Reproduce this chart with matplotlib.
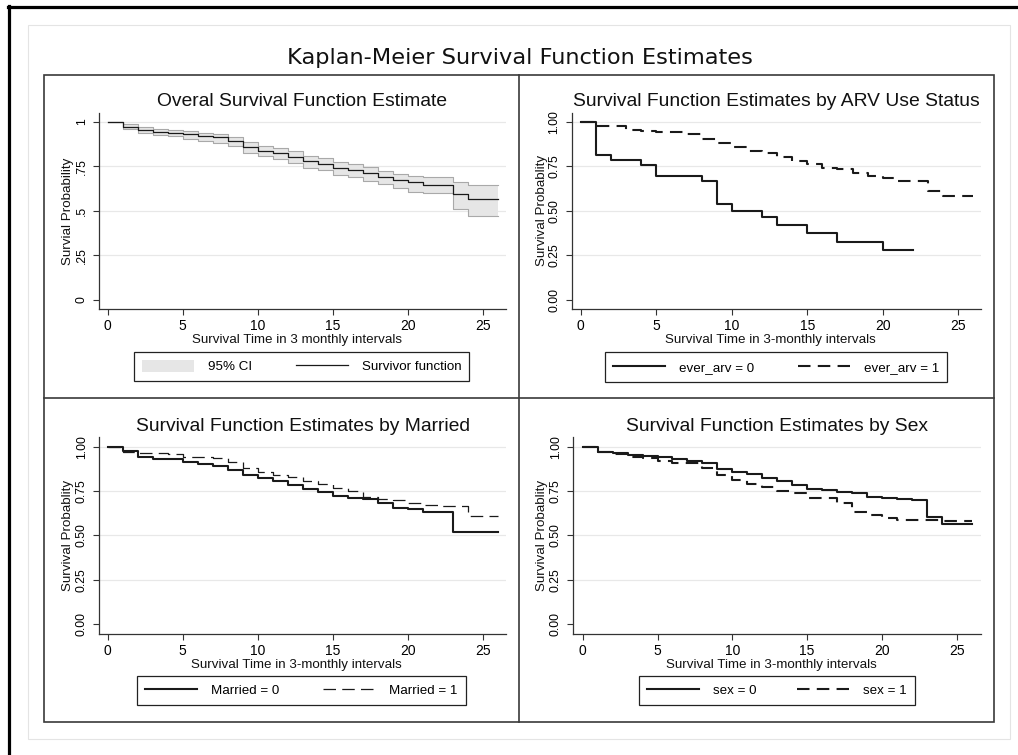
import matplotlib
matplotlib.use("Agg")
import matplotlib.pyplot as plt
from matplotlib.lines import Line2D
from matplotlib.patches import Patch, Rectangle

plt.rcParams["font.family"] = ["Liberation Sans", "DejaVu Sans"]

# ---------------- data ----------------
time = list(range(27))  # 3-monthly intervals 0..26

overall_surv = [1.0, .972, .953, .944, .938, .929, .920, .912, .893, .856, .837, .822, .804, .779,
                .763, .742, .729, .714, .692, .673, .662, .647, .645, .594, .564, .564, .564]
overall_hi = [1.0, .987, .972, .961, .953, .948, .938, .929, .916, .888, .865, .850, .836, .809,
              .794, .776, .761, .748, .725, .708, .695, .690, .690, .664, .645, .645, .645]
overall_lo = [1.0, .957, .935, .925, .920, .901, .892, .882, .864, .826, .807, .791, .766, .742,
              .729, .701, .688, .667, .650, .626, .607, .598, .598, .508, .471, .471, .471]

arv0 = [1.0, .813, .785, .785, .757, .695, .695, .695, .667, .536, .501, .501, .464, .421,
        .421, .374, .374, .327, .327, .327, .280, .280, .280]
arv1 = [1.0, .978, .978, .953, .950, .940, .940, .929, .905, .882, .856, .837, .822, .800,
        .781, .763, .742, .733, .714, .695, .686, .669, .667, .609, .583, .583, .583]

married0 = [1.0, .976, .944, .929, .929, .916, .901, .893, .869, .841, .822, .807, .784, .760,
            .743, .722, .709, .704, .685, .653, .647, .634, .634, .522, .522, .522, .522]
married1 = [1.0, .972, .966, .962, .957, .940, .940, .934, .916, .882, .859, .841, .827, .809,
            .790, .765, .752, .719, .704, .700, .685, .672, .668, .668, .610, .610, .610]

sex0 = [1.0, .972, .962, .953, .949, .940, .929, .921, .906, .874, .859, .844, .822, .807,
        .784, .762, .756, .747, .741, .719, .709, .704, .700, .606, .563, .563, .563]
sex1 = [1.0, .968, .957, .944, .934, .919, .910, .910, .882, .841, .812, .790, .775, .750,
        .737, .709, .709, .681, .634, .615, .600, .587, .587, .587, .583, .583, .583]

xticks = [0, 5, 10, 15, 20, 25]
yticks = [0, .25, .5, .75, 1]
ylabels_short = ["0", ".25", ".5", ".75", "1"]
ylabels_long = ["0.00", "0.25", "0.50", "0.75", "1.00"]

main_title = "Kaplan-Meier Survival Function Estimates"
titles = ["Overal Survival Function Estimate", "Survival Function Estimates by ARV Use Status",
          "Survival Function Estimates by Married", "Survival Function Estimates by Sex"]
xlabels = ["Survival Time in 3 monthly intervals", "Survival Time in 3-monthly intervals",
           "Survival Time in 3-monthly intervals", "Survival Time in 3-monthly intervals"]
ylabels = ["Survial Probability", "Survival Probablity", "Survival Probablity", "Survival Probablity"]

# ---------------- figure / layout ----------------
W, H = 1018, 755
fig = plt.figure(figsize=(W / 100, H / 100), dpi=100)
fig.patch.set_facecolor("white")


def fx(x):
    return x / W


def fy(y):
    return 1 - y / H


def px_rect(l, t, r, b):
    return [l / W, 1 - b / H, (r - l) / W, (b - t) / H]


# outer frame pieces
fig.add_artist(Line2D([fx(8.7), fx(8.7)], [fy(5.8), fy(755)], color="black", lw=2.3))
fig.add_artist(Line2D([fx(7.6), fx(1018)], [fy(7), fy(7)], color="black", lw=2.3))
fig.add_artist(Rectangle((fx(28), fy(739)), (1010 - 28) / W, (739 - 25) / H, fill=False,
                         edgecolor="#e4e4e4", lw=0.8, transform=fig.transFigure))
# panel grid
fig.add_artist(Rectangle((fx(44), fy(722)), (994 - 44) / W, (722 - 75) / H, fill=False,
                         edgecolor="#3a3a3a", lw=1.2, transform=fig.transFigure))
fig.add_artist(Line2D([fx(519), fx(519)], [fy(75), fy(722)], color="#3a3a3a", lw=1.2))
fig.add_artist(Line2D([fx(44), fx(994)], [fy(398), fy(398)], color="#3a3a3a", lw=1.2))

fig.text(fx(520), fy(63.5), main_title, ha="center", va="baseline", fontsize=16.2,
         family=["DejaVu Sans"], color="#111")

panels = [
    dict(rect=px_rect(99.3, 112.7, 506, 309), xlim=(-0.56, 26.55), ylim=(-0.0505, 1.0505),
         ylab=ylabels_short, title_xy=(301.7, 106), xlab_y=343.3, ylab_x=68, leg_c=(301.5, 366.5)),
    dict(rect=px_rect(571.7, 112.7, 980.7, 309), xlim=(-0.596, 26.49), ylim=(-0.0505, 1.0505),
         ylab=ylabels_long, title_xy=(776, 106), xlab_y=343.3, ylab_x=542.5, leg_c=(776, 367)),
    dict(rect=px_rect(99.3, 436.7, 506, 634), xlim=(-0.56, 26.55), ylim=(-0.0546, 1.056),
         ylab=ylabels_long, title_xy=(303, 430.7), xlab_y=667.7, ylab_x=67.5, leg_c=(301.5, 690.5)),
    dict(rect=px_rect(573.3, 436.7, 980.7, 634), xlim=(-0.63, 26.6), ylim=(-0.0546, 1.056),
         ylab=ylabels_long, title_xy=(777, 430.7), xlab_y=667.7, ylab_x=542.5, leg_c=(777, 690.5)),
]

axes = []
for i, p in enumerate(panels):
    ax = fig.add_axes(p["rect"])
    ax.set_xlim(*p["xlim"])
    ax.set_ylim(*p["ylim"])
    for s in ["top", "right"]:
        ax.spines[s].set_visible(False)
    for s in ["left", "bottom"]:
        ax.spines[s].set_color("#333333")
        ax.spines[s].set_linewidth(0.9)
    ax.set_xticks(xticks)
    ax.set_xticklabels([str(v) for v in xticks], fontsize=10)
    ax.set_yticks(yticks)
    ax.set_yticklabels(p["ylab"], rotation=90, va="center", fontsize=8.8)
    ax.tick_params(axis="x", direction="out", length=4.3, width=0.8, color="#333333", pad=3.0)
    ax.tick_params(axis="y", direction="out", length=4.3, width=0.8, color="#333333", pad=4.0)
    for yv in yticks[1:]:
        ax.axhline(yv, color="#e8e8e8", lw=0.9, zorder=0)
    fig.text(fx(p["title_xy"][0]), fy(p["title_xy"][1]), titles[i], ha="center",
             va="baseline", fontsize=13.9, color="#111")
    fig.text(fx((p["rect"][0] * W + (p["rect"][0] + p["rect"][2]) * W) / 2 - 6), fy(p["xlab_y"]),
             xlabels[i], ha="center", va="baseline", fontsize=9.6, color="#111")
    fig.text(fx(p["ylab_x"]), fy((1 - p["rect"][1] - p["rect"][3] / 2) * H), ylabels[i],
             ha="center", va="center", rotation=90, fontsize=9.6, color="#111")
    axes.append(ax)

dark = "#1a1a1a"
thick = 1.5


def legend(ax, handles, labels, center, colsp=3.3):
    leg = ax.legend(handles, labels, ncol=2, loc="center",
                    bbox_to_anchor=(fx(center[0]), fy(center[1])), bbox_transform=fig.transFigure,
                    fontsize=9.6, handlelength=3.9, handleheight=1.0, handletextpad=1.05,
                    columnspacing=colsp, borderpad=0.6, frameon=True, fancybox=False,
                    edgecolor="#222222", framealpha=1)
    leg.get_frame().set_linewidth(0.9)
    return leg


# panel 1: overall with CI
ax = axes[0]
ax.fill_between(time, overall_lo, overall_hi, step="post", facecolor="#e6e6e6",
                edgecolor="none", zorder=1)
ax.step(time, overall_hi, where="post", color="#a9a9a9", lw=0.8, zorder=2)
ax.step(time, overall_lo, where="post", color="#a9a9a9", lw=0.8, zorder=2)
ax.step(time, overall_surv, where="post", color=dark, lw=0.9, zorder=3)
legend(ax, [Patch(facecolor="#e6e6e6", edgecolor="none"), Line2D([], [], color=dark, lw=0.9)],
       ["95% CI", "Survivor function"], panels[0]["leg_c"])

# panel 2: ARV
ax = axes[1]
l0, = ax.step(time[:len(arv0)], arv0, where="post", color=dark, lw=thick)
l1, = ax.step(time[:len(arv1)], arv1, where="post", color=dark, lw=thick, dashes=(6, 3.5))
legend(ax, [l0, l1], ["ever_arv = 0", "ever_arv = 1"], panels[1]["leg_c"])

# panel 3: married
ax = axes[2]
l0, = ax.step(time, married0, where="post", color=dark, lw=thick)
l1, = ax.step(time, married1, where="post", color=dark, lw=0.9, dashes=(10, 5))
legend(ax, [l0, l1], ["Married = 0", "Married = 1"], panels[2]["leg_c"])

# panel 4: sex
ax = axes[3]
l0, = ax.step(time, sex0, where="post", color=dark, lw=thick)
l1, = ax.step(time, sex1, where="post", color=dark, lw=thick, dashes=(6, 3.5))
legend(ax, [l0, l1], ["sex = 0", "sex = 1"], panels[3]["leg_c"], colsp=3.0)

fig.savefig("out.png", dpi=100, facecolor="white")
